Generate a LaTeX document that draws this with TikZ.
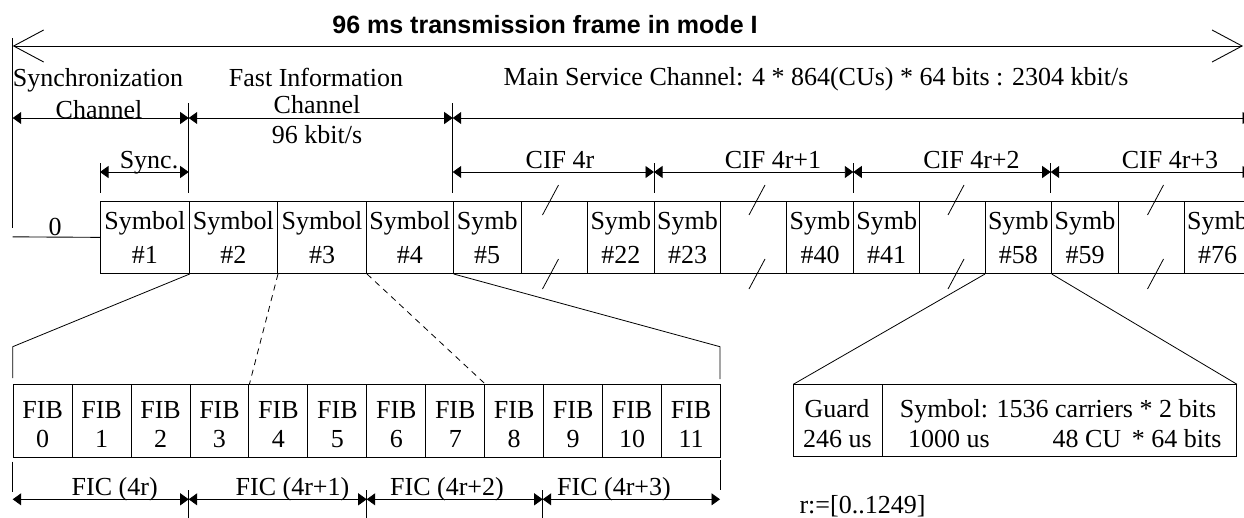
\documentclass[tikz,border=0pt]{standalone}
\usepackage{fontspec}
\setmainfont{Liberation Serif}
\setsansfont{Liberation Sans}
\usetikzlibrary{arrows.meta,calc}
\begin{document}
\begin{tikzpicture}[x=1pt,y=-1pt,
  txt/.style={font=\fontsize{26}{30}\selectfont, inner sep=0pt, anchor=base},
  ttl/.style={font=\sffamily\bfseries\fontsize{25}{30}\selectfont, inner sep=0pt, anchor=base},
  box/.style={draw, line width=1pt, minimum height=72.3pt, inner sep=0pt, anchor=north west},
  fbox/.style={draw, line width=1pt, minimum height=72.7pt, minimum width=58.94pt, inner sep=0pt, anchor=north west},
  tip/.tip={Triangle[length=8.5pt,width=12pt]},
  dim/.style={line width=0.9pt, tip-tip},
  bigarr/.style={line width=0.9pt, {Straight Barb[length=30pt,width=32pt]}-{Straight Barb[length=30pt,width=32pt]}},
  ext/.style={line width=0.9pt},
  zoomln/.style={line width=0.8pt},
  dashln/.style={line width=0.8pt, dash pattern=on 6pt off 5pt},
  brk/.style={line width=0.8pt}
]
\useasboundingbox (0,0) rectangle (1244,517);
\clip (0,0) rectangle (1244,517);

% ---------- title and overall arrow ----------
\node[ttl] (title) at (545,33) {96 ms transmission frame in mode I};
\coordinate (tl) at (12.7,46);
\coordinate (tr) at (1243,46);
\draw[bigarr] (tl) -- (tr);
\coordinate (v0t) at (12.7,38);
\coordinate (v0b) at (12.7,228);
\draw[ext] (v0t) -- (v0b);

% ---------- symbol row ----------
\foreach \n/\a/\b in {s1/100/188.7, s2/188.7/277, s3/277/366, s4/366/452.7} {
  \node[box, minimum width={(\b-\a)*1pt}] (\n) at (\a,200.7) {};
}
\foreach \n/\a/\b in {m1/452.7/520.7, m2/520.7/586.7, m3/586.7/654, m4/654/720,
                      m5/720/785.7, m6/785.7/853.3, m7/853.3/919, m8/919/985,
                      m9/985/1050.7, m10/1050.7/1118.3, m11/1118.3/1184, m12/1184/1250} {
  \node[box, minimum width={(\b-\a)*1pt}] (\n) at (\a,200.7) {};
}
\foreach \n/\k in {s1/1, s2/2, s3/3, s4/4} {
  \node[txt] (\n a) at ($(\n.north)+(0,28.3)$) {Symbol};
  \node[txt] (\n b) at ($(\n.north)+(0,63)$) {\#\k};
}
\foreach \n/\k in {m1/5, m3/22, m4/23, m6/40, m7/41, m9/58, m10/59, m12/76} {
  \node[txt] (\n a) at ($(\n.north)+(0,28.3)$) {Symb};
  \node[txt] (\n b) at ($(\n.north)+(0,63)$) {\#\k};
}
% break marks
\foreach \n/\d in {m2/-3.7, m5/3.65, m8/3.5, m11/3.85} {
  \draw[brk] ($(\n.north)+(\d+8,-15.7)$) -- ++(-16,30);
  \draw[brk] ($(\n.south)+(\d+8,-15)$) -- ++(-16,30);
}

% zero line
\coordinate (h0) at (12.7,236.85);
\draw[ext] (h0) -- (s1.west);
\node[txt] (zero) at (55,235) {0};

% ---------- channel labels ----------
\node[txt] (sc1) at (98,86) {Synchronization};
\node[txt] (sc2) at (99,118) {Channel};
\node[txt] (fc1) at (316,86) {Fast Information};
\node[txt] (fc2) at (317,113.3) {Channel};
\node[txt] (fc3) at (317,143.3) {96 kbit/s};
\node[txt] (msc) at (816,85) {Main Service Channel: 4 * 864(CUs) * 64 bits : 2304 kbit/s};

% extension lines
\foreach \x/\t in {188.7/103, 452.7/103, 100/163, 654/163, 853.3/163, 1050.7/163} {
  \draw[ext] (\x,\t) -- (\x,193);
}
% level 2 arrows
\coordinate (a0) at (12.7,118);
\coordinate (a1) at (188.7,118);
\coordinate (a2) at (452.7,118);
\coordinate (a3) at (1251,118);
\draw[dim] (a0) -- (a1);
\draw[dim] (a1) -- (a2);
\draw[dim] (a2) -- (a3);
% level 3 arrows
\coordinate (b0) at (100,172);
\coordinate (b1) at (188.7,172);
\coordinate (c0) at (452.7,172);
\coordinate (c1) at (654,172);
\coordinate (c2) at (853.3,172);
\coordinate (c3) at (1050.7,172);
\coordinate (c4) at (1251,172);
\draw[dim] (b0) -- (b1);
\draw[dim] (c0) -- (c1);
\draw[dim] (c1) -- (c2);
\draw[dim] (c2) -- (c3);
\draw[dim] (c3) -- (c4);
\node[txt] (sync) at (149,168.3) {Sync.};
\node[txt] (cif0) at (560,168.3) {CIF 4r};
\node[txt] (cif1) at (773,168.3) {CIF 4r+1};
\node[txt] (cif2) at (971.5,168.3) {CIF 4r+2};
\node[txt] (cif3) at (1170,168.3) {CIF 4r+3};

% ---------- FIB row ----------
\foreach \i in {0,...,11} {
  \node[fbox] (f\i) at ({12.7+\i*58.94},384) {};
  \node[txt] (f\i a) at ($(f\i.north)+(0,34)$) {FIB};
  \node[txt] (f\i b) at ($(f\i.north)+(0,63)$) {\i};
}
% zoom lines symbol -> FIB
\coordinate (zl1) at (12.7,346.7);
\coordinate (zl2) at (12.7,378);
\coordinate (zr1) at (720,346.7);
\coordinate (zr2) at (720,379);
\draw[zoomln] (s1.south east) -- (zl1) -- (zl2);
\draw[zoomln] (s4.south east) -- (zr1) -- (zr2);
\draw[dashln] (s2.south east) -- (f3.north east);
\draw[dashln] (s3.south east) -- (f7.north east);

% FIC arrows
\coordinate (d0) at (12.7,499.3);
\coordinate (d1) at (188.7,499.3);
\coordinate (d2) at (366.7,499.3);
\coordinate (d3) at (542.7,499.3);
\coordinate (d4) at (720,499.3);
\draw[ext] (12.7,461.7) -- (12.7,491.7);
\draw[ext] (720,460) -- (720,490);
\foreach \x in {188.7,366.7,542.7} {\draw[ext] (\x,490) -- (\x,520);}
\draw[dim] (d0) -- (d1);
\draw[dim] (d1) -- (d2);
\draw[dim] (d2) -- (d3);
\draw[dim] (d3) -- (d4);
\node[txt] (fic0) at (114.7,495) {FIC (4r)};
\node[txt] (fic1) at (292.5,495) {FIC (4r+1)};
\node[txt] (fic2) at (447,495) {FIC (4r+2)};
\node[txt] (fic3) at (614,495) {FIC (4r+3)};

% ---------- guard / symbol detail ----------
\node[draw, line width=1pt, minimum width=89pt, minimum height=71.4pt, inner sep=0pt, anchor=north west] (g1) at (793.3,384.3) {};
\node[draw, line width=1pt, minimum width=353.7pt, minimum height=71.4pt, inner sep=0pt, anchor=north west] (g2) at (882.3,384.3) {};
\draw[zoomln] (m9.south west) -- (g1.north west);
\draw[zoomln] (m9.south east) -- (g2.north east);
\node[txt] (gd1) at (837,417.3) {Guard};
\node[txt] (gd2) at (837.5,447) {246 us};
\node[txt] (sy1) at (1058,417.3) {Symbol: 1536 carriers * 2 bits};
\node[txt] (sy2) at (949,447) {1000 us};
\node[txt] (sy3) at (1137,447) {48 CU\,\ * 64 bits};
\node[txt] (rr) at (862.5,513) {r:=[0..1249]};
\end{tikzpicture}
\end{document}
